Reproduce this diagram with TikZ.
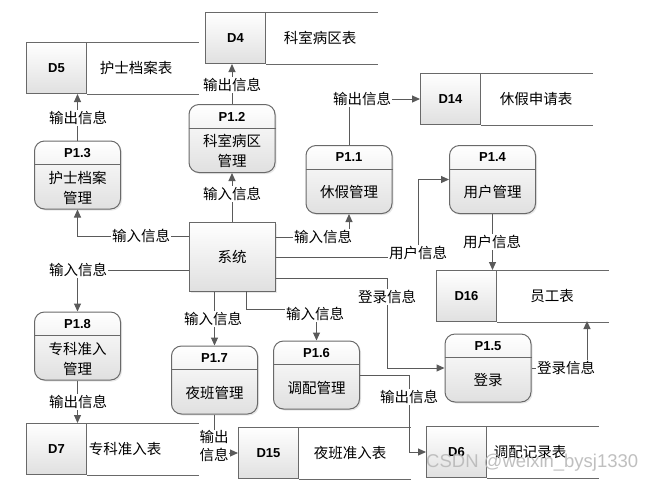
\documentclass[tikz,border=0pt]{standalone}
\usepackage{fontspec}
\setmainfont{Noto Sans CJK SC}
\newfontfamily\idfont{Liberation Sans}
\newfontfamily\wmfont{Liberation Sans}
\usetikzlibrary{arrows.meta,shadows,calc}
\definecolor{linec}{RGB}{90,90,90}
\definecolor{boxc}{RGB}{105,105,105}
\definecolor{fillb}{RGB}{224,224,224}
\tikzset{
 procbox/.style={draw=boxc, line width=1pt, rounded corners=10pt, minimum width=86pt, minimum height=68pt,
   top color=white, bottom color=fillb, inner sep=0pt,
   drop shadow={opacity=0.18,shadow xshift=1.5pt,shadow yshift=-1.5pt}},
 sysbox/.style={draw=boxc, line width=1pt, minimum width=86pt, minimum height=69pt,
   top color=white, bottom color=fillb, inner sep=0pt, font=\fontsize{14.5}{17}\selectfont,
   drop shadow={opacity=0.18,shadow xshift=1.5pt,shadow yshift=-1.5pt}},
 idbox/.style={draw=boxc, line width=1pt, minimum width=60pt, minimum height=51pt,
   top color=white, bottom color=fillb, inner sep=0pt, font=\idfont\bfseries\fontsize{13}{15}\selectfont},
 storeline/.style={draw=boxc, line width=1pt},
 flow/.style={draw=linec, line width=1pt, -{Triangle[length=8pt,width=7pt]}},
 lbl/.style={fill=white, inner sep=1pt, font=\fontsize{14.5}{18}\selectfont, align=center},
 txt/.style={font=\fontsize{14.5}{20}\selectfont, align=center, inner sep=0pt},
 pid/.style={font=\idfont\bfseries\fontsize{13}{15}\selectfont, inner sep=0pt},
}
\newcommand\mkproc[5]{%
 \node[procbox] (#1) at (#2,#3) {};
 \draw[storeline] ($(#1.north west)+(0,-24pt)$) -- ($(#1.north east)+(0,-24pt)$);
 \node[pid] (#1id) at ($(#1.north)+(0,-12.5pt)$) {#4};
 \node[txt] (#1t) at ($(#1.south)+(0,22pt)$) {#5};
}
\newcommand\mkstore[6]{%
 \node[idbox, anchor=north west] (#1) at (#2,#3) {#4};
 \draw[storeline] (#1.north east) -- ++(112pt,0) (#1.south east) -- ++(112pt,0);
 \node[txt] (#1t) at (#5,0 |- #1) {#6};
}
\begin{document}
\begin{tikzpicture}[x=1pt,y=-1pt]
\useasboundingbox (0,0) rectangle (658,483);
\fill[white] (0,0) rectangle (658,483);
% data stores
\mkstore{d5}{26}{42}{D5}{136}{护士档案表}
\mkstore{d4}{205}{12}{D4}{320}{科室病区表}
\mkstore{d14}{420}{73}{D14}{536}{休假申请表}
\mkstore{d16}{436}{270}{D16}{552}{员工表}
\mkstore{d7}{26}{423}{D7}{125}{专科准入表}
\mkstore{d15}{238}{427}{D15}{350}{夜班准入表}
\mkstore{d6}{426}{426}{D6}{530}{调配记录表}
% processes
\mkproc{p13}{77.5}{175}{P1.3}{护士档案\\管理}
\mkproc{p12}{232}{138.5}{P1.2}{科室病区\\管理}
\mkproc{p11}{349}{179.5}{P1.1}{休假管理}
\mkproc{p14}{492.5}{179.5}{P1.4}{用户管理}
\mkproc{p18}{77.5}{346}{P1.8}{专科准入\\管理}
\mkproc{p17}{214.5}{380}{P1.7}{夜班管理}
\mkproc{p16}{316.5}{375}{P1.6}{调配管理}
\mkproc{p15}{488}{368}{P1.5}{登录}
% system
\node[sysbox] (sys) at (232,256.5) {系统};
\coordinate (d16b) at (587,321);
% flows
\draw[flow] (sys.north) -- (p12.south);
\draw[flow] (p12.north) -- (p12.north |- d4.south);
\draw[flow] (sys.west |- 0,236) -| (p13.south);
\draw[flow] (p13.north) -- (p13.north |- d5.south);
\draw[flow] (sys.east |- 0,237) -| (p11.south);
\draw[flow] (p11.north) |- (d14.west);
\draw[flow] (sys.east |- 0,257) -- (418,257) |- (p14.west);
\draw[flow] (p14.south) -- (p14.south |- d16.north);
\draw[flow] (sys.east |- 0,278) -- (387,278) |- (p15.west);
\draw[flow] (p15.east) -| (d16b);
\draw[flow] (p16.east) -- (409,375) |- (d6.west);
\draw[flow] (p17.north |- sys.south) -- (p17.north);
\draw[flow] (246,291) |- (316.5,309) -- (p16.north);
\draw[flow] (sys.west |- 0,270) -| (p18.north);
\draw[flow] (p18.south) -- (p18.south |- d7.north);
\draw[flow] (p17.south) |- (d15.west);
% labels
\node[lbl] (l1) at (232,194) {输入信息};
\node[lbl] (l2) at (232,85) {输出信息};
\node[lbl] (l3) at (141,236) {输入信息};
\node[lbl] (l4) at (78,118) {输出信息};
\node[lbl] (l5) at (323,237) {输入信息};
\node[lbl] (l6) at (362,99) {输出信息};
\node[lbl] (l7) at (418,253) {用户信息};
\node[lbl] (l8) at (492,242) {用户信息};
\node[lbl] (l9) at (387,297) {登录信息};
\node[lbl] (l10) at (566,368) {登录信息};
\node[lbl] (l11) at (409,397) {输出信息};
\node[lbl] (l12) at (213,319) {输入信息};
\node[lbl] (l13) at (315,314) {输入信息};
\node[lbl] (l14) at (78,270) {输入信息};
\node[lbl] (l15) at (78,402) {输出信息};
\node[lbl, inner sep=0pt] (l16) at (214,446) {输出\\信息};
% watermark
\node[font=\wmfont\fontsize{18.5}{20}\selectfont, text=gray!55, opacity=0.9, anchor=west, inner sep=0pt] (wm) at (426,463) {CSDN @weixin\_bysj1330};
\end{tikzpicture}
\end{document}
